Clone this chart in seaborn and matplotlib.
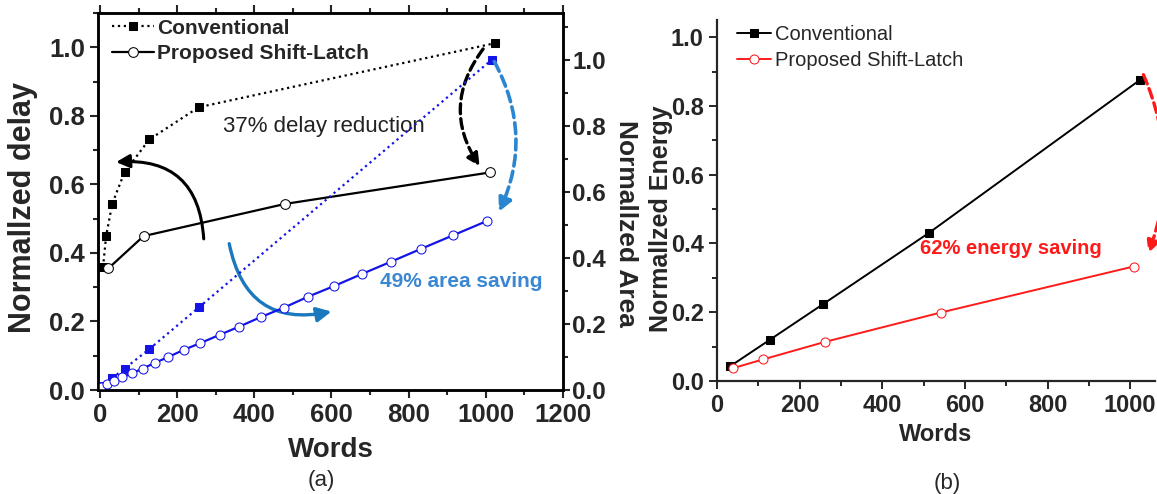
import seaborn as sns
import matplotlib.pyplot as plt
from matplotlib.ticker import MultipleLocator

# (a) normalized delay, left axis
delay_conv_x = [8, 16, 32, 64, 128, 256, 1024]
delay_conv_y = [0.358, 0.449, 0.544, 0.636, 0.731, 0.825, 1.012]
delay_prop_x = [22, 113, 480, 1012]
delay_prop_y = [0.355, 0.449, 0.543, 0.635]

# (a) normalized area, right axis
area_conv_x = [8, 32, 64, 128, 256, 1015]
area_conv_y = [0.013, 0.036, 0.065, 0.124, 0.250, 1.000]
area_prop_x = [4, 19, 37, 58, 82, 111, 142, 177, 218, 260, 310, 361, 417,
               476, 540, 607, 678, 753, 833, 916, 1003]
area_prop_y = [0.008, 0.019, 0.027, 0.038, 0.050, 0.065, 0.082, 0.100, 0.122,
               0.142, 0.167, 0.192, 0.221, 0.249, 0.283, 0.315, 0.351, 0.388,
               0.428, 0.469, 0.512]

# (b) normalized energy
energy_conv_x = [32, 128, 256, 512, 1024]
energy_conv_y = [0.043, 0.120, 0.223, 0.430, 0.876]
energy_prop_x = [38, 112, 262, 541, 1008]
energy_prop_y = [0.037, 0.063, 0.114, 0.199, 0.333]

serie_nomes = ['Conventional', 'Proposed Shift-Latch']

sns.set_style('ticks')
plt.rcParams['font.family'] = ['Liberation Sans', 'DejaVu Sans']

AZUL = '#1414e6'
VERMELHO = '#ff1a1a'

fig = plt.figure(figsize=(11.57, 4.94), dpi=100)
W, H = 1157, 494
ax = fig.add_axes([98 / W, 1 - 390 / H, 465 / W, 377 / H])
ax2 = ax.twinx()
bx = fig.add_axes([717 / W, 1 - 381 / H, 438 / W, 361 / H])

# ---------- painel (a) ----------
sns.lineplot(x=delay_conv_x, y=delay_conv_y, ax=ax, sort=False, color='black',
             linestyle=':', linewidth=1.6, marker='s', markersize=6,
             markerfacecolor='black', markeredgecolor='black')
sns.lineplot(x=delay_prop_x, y=delay_prop_y, ax=ax, sort=False, color='black',
             linestyle='-', linewidth=1.6, marker='o', markersize=7,
             markerfacecolor='white', markeredgecolor='black')
sns.lineplot(x=area_conv_x, y=area_conv_y, ax=ax2, sort=False, color=AZUL,
             linestyle=':', linewidth=1.6, marker='s', markersize=6,
             markerfacecolor=AZUL, markeredgecolor=AZUL)
sns.lineplot(x=area_prop_x, y=area_prop_y, ax=ax2, sort=False, color=AZUL,
             linestyle='-', linewidth=1.6, marker='o', markersize=6.5,
             markerfacecolor='white', markeredgecolor=AZUL)

ax.set_xlim(-5, 1200)
ax.set_ylim(0, 1.1)
ax2.set_ylim(0, 1.142)
ax.xaxis.set_major_locator(MultipleLocator(200))
ax.xaxis.set_minor_locator(MultipleLocator(100))
ax.yaxis.set_major_locator(MultipleLocator(0.2))
ax.yaxis.set_minor_locator(MultipleLocator(0.1))
ax2.yaxis.set_major_locator(MultipleLocator(0.2))
ax2.yaxis.set_minor_locator(MultipleLocator(0.1))
ax.yaxis.set_major_formatter(lambda v, p: f'{v:.1f}')
ax2.yaxis.set_major_formatter(lambda v, p: f'{v:.1f}')

for eixo in (ax, ax2):
    for s in eixo.spines.values():
        s.set_linewidth(1.8)
        s.set_color('black')
ax.tick_params(which='both', direction='out', top=True, right=False, width=1.5)
ax.tick_params(which='major', length=6, labelsize=18.5)
ax.tick_params(which='minor', length=3.5)
ax2.tick_params(which='both', direction='out', width=1.5)
ax2.tick_params(which='major', length=5, labelsize=17.5, pad=1.5)
ax2.tick_params(which='minor', length=3.5)
for lab in ax.get_xticklabels() + ax.get_yticklabels() + ax2.get_yticklabels():
    lab.set_fontweight('bold')

ax.set_xlabel('Words', fontsize=20, fontweight='bold')
ax.xaxis.set_label_coords(0.5, -0.125)
ax.set_ylabel('Normallzed delay', fontsize=22, fontweight='bold')
ax.yaxis.set_label_coords(-0.13, 0.485)
ax2.set_ylabel('Normallzed Area', fontsize=19, fontweight='bold', rotation=270,
               va='center')
ax2.yaxis.set_label_coords(1.135, 0.443)

linhas = ax.get_lines()
ax.legend(handles=linhas[:2], labels=serie_nomes, loc='upper left',
          bbox_to_anchor=(0.03, 0.985), frameon=False, borderpad=0,
          borderaxespad=0, handlelength=2.0, handletextpad=0.15,
          labelspacing=0.3, prop={'size': 15, 'weight': 'bold'})

ax.text(319, 0.77, '37% delay reduction', fontsize=16, color='#222222',
        ha='left', va='center')
ax.text(725, 0.316, '49% area saving', fontsize=15, fontweight='bold',
        color='#3a87d3', ha='left', va='center')

ax.annotate('', xy=(42, 0.665), xytext=(269, 0.441),
            arrowprops=dict(arrowstyle='-|>', connectionstyle='arc3,rad=0.5',
                            color='black', lw=2.2, mutation_scale=20,
                            shrinkA=0, shrinkB=0))
ax.annotate('', xy=(984, 0.653), xytext=(993, 0.995),
            arrowprops=dict(arrowstyle='-|>', connectionstyle='arc3,rad=0.35',
                            color='black', lw=2.4, linestyle=(0, (3, 1.5)),
                            mutation_scale=18, shrinkA=0, shrinkB=0))
ax.annotate('', xy=(600, 0.229), xytext=(335, 0.427),
            arrowprops=dict(arrowstyle='-|>', connectionstyle='arc3,rad=0.5',
                            color='#1b78bd', lw=2.4, mutation_scale=22,
                            shrinkA=0, shrinkB=0))
ax2.annotate('', xy=(1034, 0.54), xytext=(1022, 0.995),
             arrowprops=dict(arrowstyle='-|>', connectionstyle='arc3,rad=-0.25',
                             color='#2a86d0', lw=2.6, linestyle=(0, (3, 1.5)),
                             mutation_scale=20, shrinkA=0, shrinkB=0))

# ---------- painel (b) ----------
sns.lineplot(x=energy_conv_x, y=energy_conv_y, ax=bx, sort=False, color='black',
             linestyle='-', linewidth=1.4, marker='s', markersize=5.5,
             markerfacecolor='black', markeredgecolor='black')
sns.lineplot(x=energy_prop_x, y=energy_prop_y, ax=bx, sort=False, color=VERMELHO,
             linestyle='-', linewidth=1.4, marker='o', markersize=6.5,
             markerfacecolor='white', markeredgecolor=VERMELHO)

bx.set_xlim(0, 1060)
bx.set_ylim(0, 1.05)
bx.xaxis.set_major_locator(MultipleLocator(200))
bx.xaxis.set_minor_locator(MultipleLocator(100))
bx.yaxis.set_major_locator(MultipleLocator(0.2))
bx.yaxis.set_minor_locator(MultipleLocator(0.1))
bx.yaxis.set_major_formatter(lambda v, p: f'{v:.1f}')
sns.despine(ax=bx)
for s in bx.spines.values():
    s.set_linewidth(1.6)
bx.tick_params(which='both', direction='out', width=1.4)
bx.tick_params(which='major', length=6, labelsize=17)
bx.tick_params(which='minor', length=3.5)
for lab in bx.get_xticklabels() + bx.get_yticklabels():
    lab.set_fontweight('bold')

bx.set_xlabel('Words', fontsize=17, fontweight='bold')
bx.xaxis.set_label_coords(0.5, -0.115)
bx.set_ylabel('Normallzed Energy', fontsize=18, fontweight='bold')
bx.yaxis.set_label_coords(-0.1, 0.45)

linhas_b = bx.get_lines()
bx.legend(handles=linhas_b[:2], labels=serie_nomes, loc='upper left',
          bbox_to_anchor=(0.045, 0.985), frameon=False, borderpad=0,
          borderaxespad=0, handlelength=1.7, handletextpad=0.2,
          labelspacing=0.35, prop={'size': 14.5})

bx.text(491, 0.385, '62% energy saving', fontsize=14.5, fontweight='bold',
        color=VERMELHO, ha='left', va='center')
bx.annotate('', xy=(1044, 0.372), xytext=(1032, 0.891), annotation_clip=False,
            arrowprops=dict(arrowstyle='-|>', connectionstyle='arc3,rad=-0.2',
                            color=VERMELHO, lw=2.4, linestyle=(0, (3, 1.5)),
                            mutation_scale=18, shrinkA=0, shrinkB=0,
                            clip_on=False))

fig.text(321 / W, 1 - 480 / H, '(a)', fontsize=16, ha='center', va='center')
fig.text(947 / W, 1 - 483 / H, '(b)', fontsize=16, ha='center', va='center')

fig.savefig('out.png', dpi=100)
